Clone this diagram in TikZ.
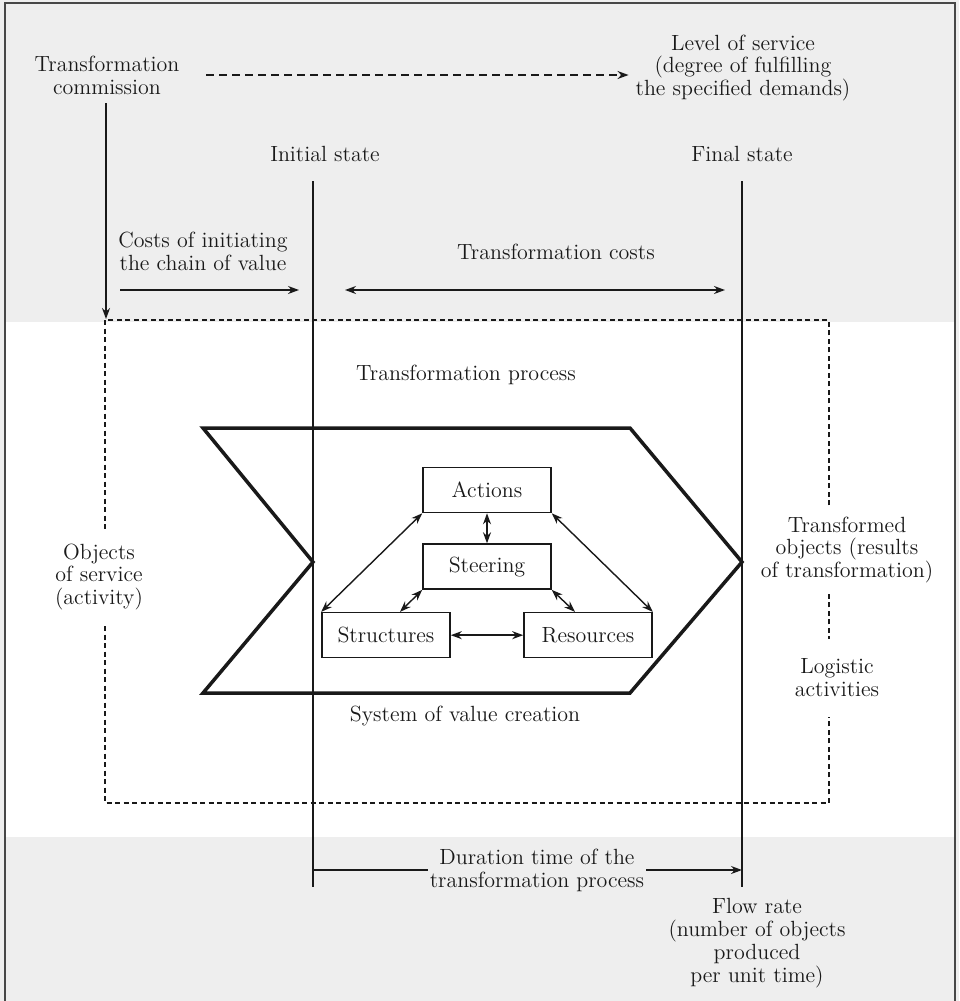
\documentclass[tikz,border=0pt]{standalone}
\usepackage{xcolor}
\definecolor{inkgray}{RGB}{25,25,25}
\definecolor{papergray}{RGB}{238,238,238}
\usepackage{tikz}
\usetikzlibrary{positioning,arrows.meta}
\tikzset{
  part/.style    ={rectangle,draw=inkgray,line width=0.9pt,minimum width=25.6mm,
                   minimum height=9mm,inner sep=0pt},
  txt/.style     ={align=center,inner sep=1pt},
  gaptxt/.style  ={align=center,fill=white,inner xsep=1pt},
  flow/.style    ={-{Stealth[length=2.2mm,width=1.6mm]},line width=0.8pt,draw=inkgray},
  twoway/.style  ={{Stealth[length=2.2mm,width=1.6mm]}-{Stealth[length=2.2mm,width=1.6mm]},
                   line width=0.8pt,draw=inkgray},
  stateline/.style={line width=1.1pt,draw=inkgray},
  bound/.style   ={dash pattern=on 1mm off 0.7mm,line width=0.6pt,draw=inkgray},
  chevron/.style ={line width=2pt,draw=inkgray,line join=miter},
}

\begin{document}
\begin{tikzpicture}[x=0.2mm,y=-0.2mm,every node/.style={font=\fontsize{12.5}{13}\selectfont,text=inkgray}]
  \useasboundingbox (0,0) rectangle (959,1001);
  % paper and frame
  \fill[papergray] (0,0) rectangle (959,1001);
  \fill[white] (6,322) rectangle (954,837);
  \draw[line width=1pt,inkgray!80] (5,1001) -- (5,3) -- (955,3) -- (955,1001);

  % logistic activities boundary
  \draw[bound] (105,320) rectangle (829,803);

  % states
  \coordinate (initTop) at (313,181);
  \coordinate (initBot) at (313,887);
  \coordinate (finTop) at (742,181);
  \coordinate (finBot) at (742,887);
  \draw[stateline] (initTop) -- (initBot);
  \draw[stateline] (finTop) -- (finBot);

  % system of value creation
  \draw[chevron] (203,428) -- (630,428) -- (742,562) -- (630,693) -- (203,693) -- (313,562) -- cycle;

  \node[txt] (tc) at (107,75) {Transformation\\commission};
  \node[txt] (los) at (743,68) {Level of service\\(degree of fulfilling\\the specified demands)};
  \node[txt] (init) at (325,154) {Initial state};
  \node[txt] (fin) at (742,154) {Final state};
  \node[txt] (costs) at (203,251) {Costs of initiating\\the chain of value};
  \node[txt] (tcosts) at (556,252) {Transformation costs};
  \node[txt] (tproc) at (466,375) {Transformation process};
  \node[txt] (svc) at (465,716) {System of value creation};
  \node[gaptxt,inner ysep=3mm] (objs) at (99,577) {Objects\\of service\\(activity)};
  \node[gaptxt,inner ysep=2mm] (tobj) at (847,550) {Transformed\\objects (results\\of transformation)};
  \node[gaptxt,inner ysep=4mm] (logi) at (837,678) {Logistic\\activities};
  \node[txt] (dur) at (537,870) {Duration time of the\\transformation process};
  \node[txt] (rate) at (757,943) {Flow rate\\(number of objects\\produced\\per unit time)};

  \node[part] (act) at (487,490) {Actions};
  \node[part,below=6mm of act] (ste) {Steering};
  \node[part,below=4.4mm of ste,xshift=-20.2mm] (str) {Structures};
  \node[part,below=4.4mm of ste,xshift=20.2mm] (res) {Resources};

  % connectors
  \coordinate (cmTop) at (106,319);
  \draw[flow] ([yshift=-1.4mm]tc.south -| cmTop) -- (cmTop);
  \draw[flow,dash pattern=on 1.6mm off 1mm] ([xshift=5mm]tc.east) -- ([xshift=-1mm]tc.east -| los.west);
  \coordinate (ca) at (120,290);
  \coordinate (cb) at (299,290);
  \coordinate (tca) at (345,290);
  \coordinate (tcb) at (725,290);
  \draw[flow] (ca) -- (cb);
  \draw[twoway] (tca) -- (tcb);
  \draw[stateline,line width=0.9pt] (dur.west -| initTop) -- (dur.west);
  \draw[flow] (dur.east) -- (dur.east -| finTop);

  \draw[twoway] (act) -- (ste);
  \draw[twoway] (act.south west) -- (str.north west);
  \draw[twoway] (act.south east) -- (res.north east);
  \draw[twoway] (ste.south west) -- ([xshift=2.8mm]str.north);
  \draw[twoway] (ste.south east) -- ([xshift=-2.6mm]res.north);
  \draw[twoway] (str) -- (res);
\end{tikzpicture}
\end{document}
